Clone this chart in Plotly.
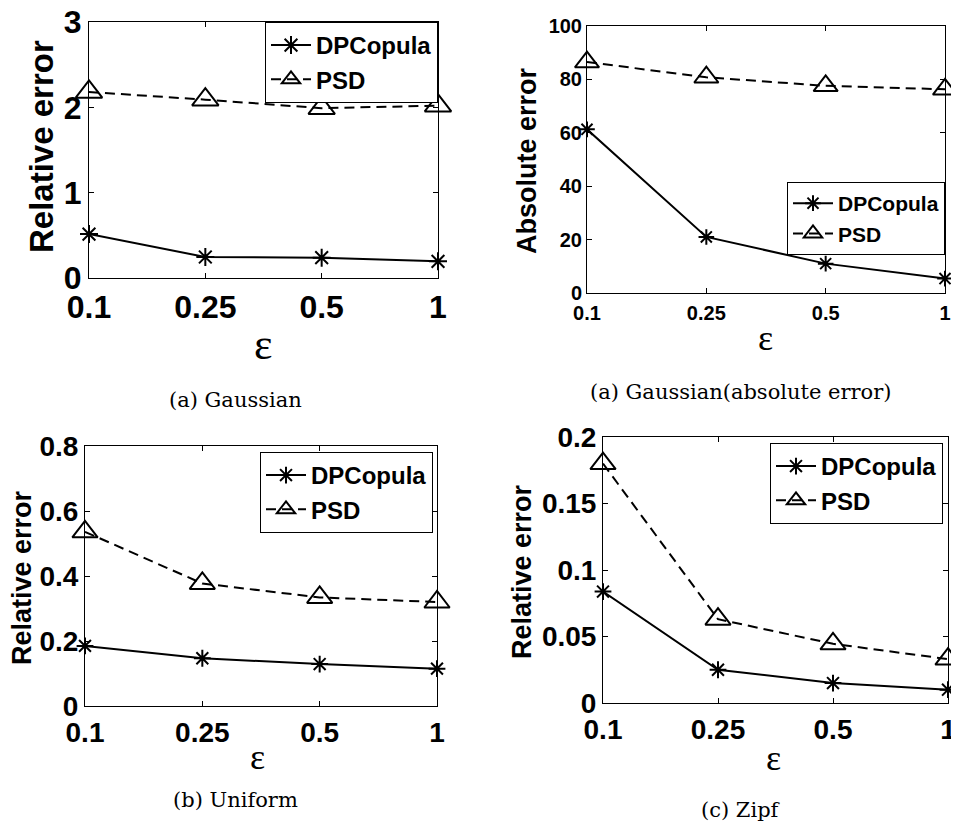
import plotly.graph_objects as go

# page body adds an 8px margin; map screen pixels into figure paper coords
OFF = 8
W, H = 959 - OFF, 822 - OFF

eps_labels = ["0.1", "0.25", "0.5", "1"]

gauss_rel_dpcopula = [0.515, 0.246, 0.238, 0.195]
gauss_rel_psd = [2.18, 2.09, 1.99, 2.02]

gauss_abs_dpcopula = [61.3, 21.0, 11.0, 5.4]
gauss_abs_psd = [86.5, 80.8, 77.6, 76.3]

uniform_dpcopula = [0.185, 0.147, 0.129, 0.115]
uniform_psd = [0.536, 0.377, 0.334, 0.320]

zipf_dpcopula = [0.0838, 0.025, 0.015, 0.010]
zipf_psd = [0.180, 0.063, 0.0445, 0.033]

y_ticks_a = [0, 1, 2, 3]
y_ticks_abs = [0, 20, 40, 60, 80, 100]
y_ticks_b = [0, 0.2, 0.4, 0.6, 0.8]
y_ticks_c = [0, 0.05, 0.1, 0.15, 0.2]

captions = ["(a) Gaussian", "(a) Gaussian(absolute error)", "(b) Uniform", "(c) Zipf"]
ytitles = ["Relative error", "Absolute error", "Relative error", "Relative error"]

SANS = "Liberation Sans"
SERIF = "DejaVu Serif"


def px_x(v):
    return (v - OFF) / W


def px_y(v):
    return 1 - (v - OFF) / H


# panel geometry in screen pixels: left, right, top, bottom
panels = [
    dict(box=(89, 438, 22, 278), dp=gauss_rel_dpcopula, psd=gauss_rel_psd, yt=y_ticks_a,
         tick=32, xso=1, ytf=33, leg=24, legpos=(438, 22), tri=23, ast=15,
         ytpos=(41, 147), eps=(263, 344), epsz=44, cap=(235, 400)),
    dict(box=(587, 945, 26, 293), dp=gauss_abs_dpcopula, psd=gauss_abs_psd, yt=y_ticks_abs,
         tick=20, xso=2, ytf=27, leg=21, legpos=(945, 182), tri=21, ast=13,
         ytpos=(527, 161), eps=(765, 338), epsz=36, cap=(740, 392)),
    dict(box=(85, 437, 446, 706), dp=uniform_dpcopula, psd=uniform_psd, yt=y_ticks_b,
         tick=28, xso=1, ytf=27, leg=24, legpos=(433, 452), tri=22, ast=14,
         ytpos=(22, 578), eps=(258, 757), epsz=36, cap=(235, 800)),
    dict(box=(603, 948, 437, 703), dp=zipf_dpcopula, psd=zipf_psd, yt=y_ticks_c,
         tick=28, xso=1, ytf=27, leg=24, legpos=(943, 443), tri=22, ast=14,
         ytpos=(522, 572), eps=(773, 758), epsz=36, cap=(741, 810)),
]

fig = go.Figure()
annotations = []
layout = {}

for i, p in enumerate(panels):
    n = "" if i == 0 else str(i + 1)
    legname = "legend" + n
    l, r, t, b = p["box"]
    fig.add_trace(go.Scatter(
        x=eps_labels, y=p["dp"], name="DPCopula", mode="lines+markers",
        xaxis="x" + n, yaxis="y" + n, legend=legname, cliponaxis=False,
        line=dict(color="black", width=2),
        marker=dict(symbol="asterisk-open", size=p["ast"], color="black",
                    line=dict(color="black", width=2)),
    ))
    fig.add_trace(go.Scatter(
        x=eps_labels, y=p["psd"], name="PSD", mode="lines+markers",
        xaxis="x" + n, yaxis="y" + n, legend=legname, cliponaxis=False,
        line=dict(color="black", width=2, dash="10px,6px"),
        marker=dict(symbol="triangle-up-open", size=p["tri"], color="black",
                    line=dict(color="black", width=2)),
    ))
    tf = dict(family=SANS, size=p["tick"], color="black", weight="bold")
    common = dict(
        automargin=False, ticklabeloverflow="allow",
        showline=True, mirror="ticks", linecolor="black", linewidth=1,
        ticks="inside", ticklen=5, tickcolor="black", tickwidth=1,
        showgrid=False, zeroline=False, tickfont=tf,
    )
    layout["xaxis" + n] = dict(
        type="category", range=[0, len(eps_labels) - 1],
        domain=[px_x(l), px_x(r)], anchor="y" + n,
        ticklabelstandoff=p["xso"], **common,
    )
    layout["yaxis" + n] = dict(
        range=[p["yt"][0], p["yt"][-1]], tickvals=p["yt"],
        domain=[px_y(b), px_y(t)], anchor="x" + n, **common,
    )
    lx, ly = p["legpos"]
    layout[legname] = dict(
        x=px_x(lx), y=px_y(ly), xanchor="right", yanchor="top",
        xref="paper", yref="paper",
        bgcolor="white", bordercolor="black", borderwidth=1,
        font=dict(family=SANS, size=p["leg"], color="black", weight="bold"),
        tracegroupgap=0, itemwidth=40,
    )
    annotations.append(dict(
        text=ytitles[i], textangle=-90, xref="paper", yref="paper",
        x=px_x(p["ytpos"][0]), y=px_y(p["ytpos"][1]),
        xanchor="center", yanchor="middle", showarrow=False,
        font=dict(family=SANS, size=p["ytf"], color="black", weight="bold"),
    ))
    annotations.append(dict(
        text="ε", xref="paper", yref="paper",
        x=px_x(p["eps"][0]), y=px_y(p["eps"][1]),
        xanchor="center", yanchor="middle", showarrow=False,
        font=dict(family="Liberation Serif", size=p["epsz"], color="black"),
    ))
    annotations.append(dict(
        text=captions[i], xref="paper", yref="paper",
        x=px_x(p["cap"][0]), y=px_y(p["cap"][1]),
        xanchor="center", yanchor="middle", showarrow=False,
        font=dict(family=SERIF, size=21, color="black"),
    ))

fig.update_layout(
    template="none",
    width=W, height=H, margin=dict(l=0, r=0, t=0, b=0, autoexpand=False),
    paper_bgcolor="white", plot_bgcolor="white",
    annotations=annotations, **layout,
)

fig.write_html("out.html")
